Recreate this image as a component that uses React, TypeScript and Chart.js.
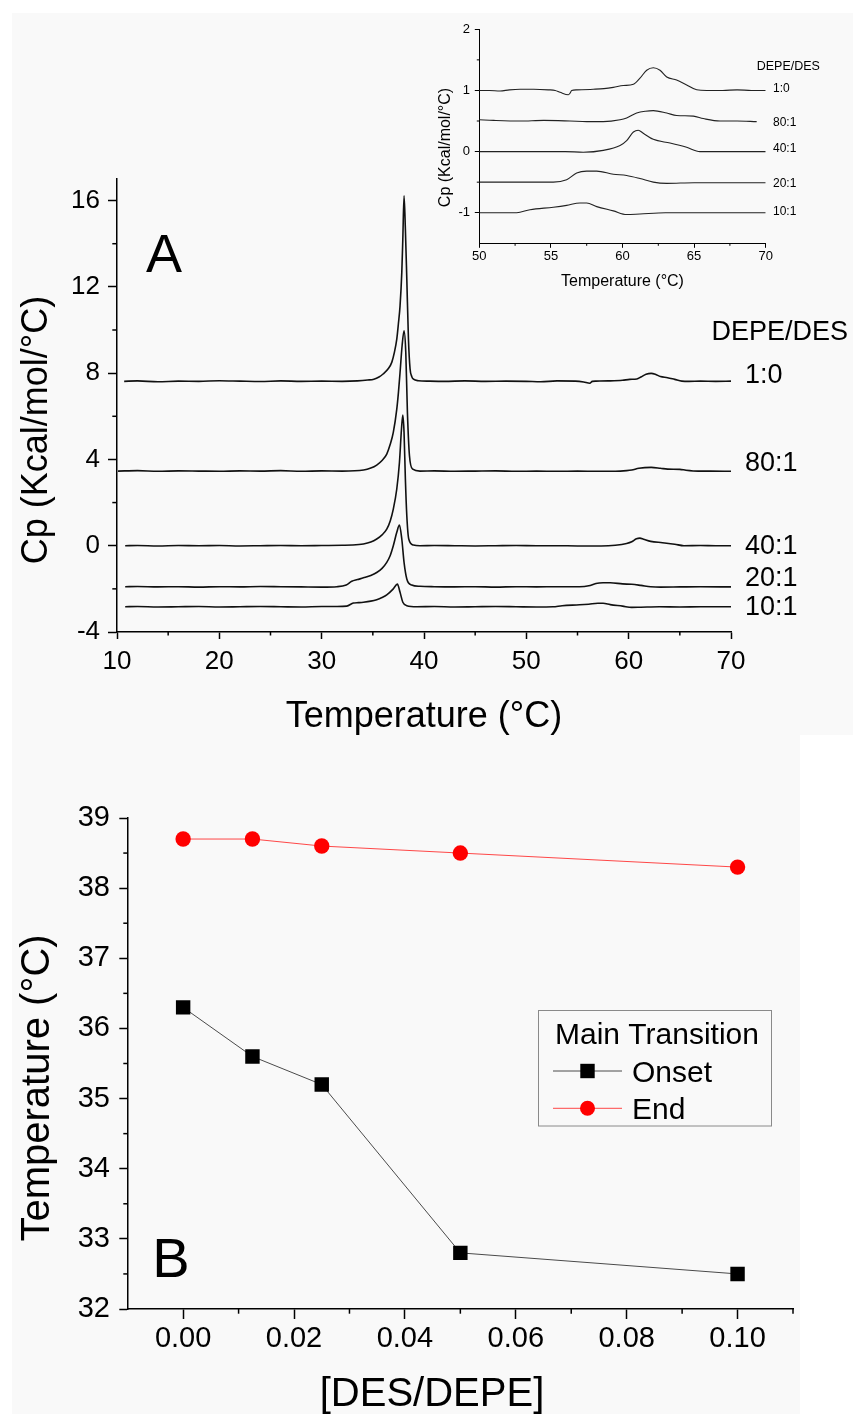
import { useEffect, useRef } from 'react';
import { Chart, registerables } from 'chart.js';

Chart.register(...registerables);

const FONT = '"Liberation Sans", Arial, Helvetica, sans-serif';

type Pt = [number, number];

// ---------- Panel A : main DSC traces (Temperature °C, Cp) ----------
const traceNames = ['1:0', '80:1', '40:1', '20:1', '10:1'];

const main_1_0: Pt[] = [
  [10.7, 7.62], [12, 7.64], [14, 7.6], [16, 7.63], [18, 7.62], [20, 7.65], [22, 7.63], [24, 7.61], [26, 7.64], [28, 7.62],
  [30, 7.63], [32, 7.62], [33.5, 7.64], [34.5, 7.68], [35.1, 7.72], [35.6, 7.82], [36.0, 7.96], [36.5, 8.2], [36.85, 8.5],
  [37.1, 8.95], [37.34, 9.58], [37.5, 10.3], [37.66, 11.12], [37.83, 12.67], [37.93, 14.21], [38.05, 16.22], [38.18, 14.68],
  [38.32, 12.36], [38.48, 9.58], [38.64, 8.19], [38.8, 7.85], [38.97, 7.72], [39.46, 7.65], [40.5, 7.63], [42, 7.62],
  [44, 7.64], [46, 7.62], [48, 7.63], [50, 7.62], [51.4, 7.6], [53, 7.64], [54.8, 7.63], [55.6, 7.59], [56.2, 7.53],
  [56.45, 7.62], [56.8, 7.63], [58, 7.64], [59.4, 7.67], [60.1, 7.71], [60.8, 7.73], [61.2, 7.82], [61.7, 7.95],
  [62.2, 7.99], [62.6, 7.95], [63.1, 7.84], [63.8, 7.79], [64.5, 7.71], [65.2, 7.63], [65.9, 7.62], [67, 7.63],
  [68.5, 7.62], [70, 7.63],
];

const main_80_1: Pt[] = [
  [10.1, 3.46], [12, 3.48], [14, 3.45], [16, 3.47], [18, 3.46], [20, 3.45], [22, 3.47], [24, 3.46], [26, 3.48], [28, 3.45],
  [30, 3.47], [32, 3.46], [34.1, 3.51], [34.8, 3.6], [35.38, 3.74], [35.9, 3.95], [36.36, 4.25], [36.7, 4.7], [37.0, 5.25],
  [37.34, 6.33], [37.5, 7.1], [37.66, 8.03], [37.86, 9.27], [38.05, 9.96], [38.22, 8.96], [38.38, 6.18], [38.58, 4.17],
  [38.9, 3.55], [39.6, 3.46], [41, 3.47], [43, 3.45], [45, 3.46], [47, 3.47], [49, 3.45], [51, 3.46], [53, 3.45],
  [55, 3.46], [57, 3.45], [58.7, 3.45], [59.8, 3.48], [60.3, 3.51], [61, 3.59], [62.2, 3.63], [63.1, 3.59], [63.8, 3.55],
  [65, 3.54], [65.6, 3.5], [66.8, 3.46], [68, 3.46], [70, 3.45],
];

const main_40_1: Pt[] = [
  [10.8, 0], [12, 0.01], [14, -0.01], [16, 0.01], [18, 0], [20, 0.01], [22, -0.01], [24, 0], [26, 0.01], [28, 0],
  [30, 0.01], [32, 0.02], [33, 0.03], [34.08, 0.08], [34.8, 0.17], [35.38, 0.31], [35.9, 0.5], [36.36, 0.77], [36.7, 1.15],
  [37.0, 1.7], [37.34, 2.63], [37.6, 3.86], [37.8, 5.41], [37.93, 6.06], [38.05, 5.25], [38.18, 3.09], [38.32, 1.39],
  [38.51, 0.31], [38.97, 0.03], [39.6, 0], [41, 0.01], [43, 0], [45, -0.01], [47, 0], [49, 0.01], [51, 0], [53, 0],
  [55, -0.01], [57.3, -0.01], [58.7, 0.02], [59.8, 0.1], [60.3, 0.18], [60.76, 0.32], [61.1, 0.35], [61.45, 0.3],
  [62.15, 0.2], [63.3, 0.14], [64.5, 0.07], [65.4, 0.0], [67, 0.01], [68.5, 0], [70, 0],
];

const main_20_1: Pt[] = [
  [10.8, -1.9], [12, -1.89], [14, -1.91], [16, -1.9], [18, -1.92], [20, -1.9], [22, -1.91], [24, -1.89], [26, -1.9],
  [28, -1.91], [30, -1.92], [31.5, -1.9], [32.4, -1.82], [32.94, -1.65], [33.5, -1.57], [34.08, -1.49], [34.8, -1.38],
  [35.38, -1.24], [35.9, -1.05], [36.36, -0.77], [36.7, -0.45], [37.0, 0.0], [37.34, 0.62], [37.6, 0.96], [37.83, 0.31],
  [38.05, -0.77], [38.32, -1.54], [38.8, -1.82], [39.6, -1.88], [41, -1.9], [43, -1.91], [45, -1.9], [47, -1.92],
  [49, -1.9], [51, -1.91], [53, -1.9], [55.2, -1.9], [56.1, -1.86], [56.8, -1.75], [57.5, -1.72], [58.2, -1.72],
  [59.4, -1.77], [60.3, -1.79], [61.2, -1.84], [62.15, -1.9], [63.1, -1.92], [65, -1.91], [67, -1.9], [70, -1.91],
];

const main_10_1: Pt[] = [
  [10.8, -2.83], [12, -2.82], [14, -2.84], [16, -2.83], [18, -2.82], [20, -2.84], [22, -2.83], [24, -2.82], [26, -2.83],
  [28, -2.84], [30, -2.82], [31.5, -2.82], [32.45, -2.8], [33.1, -2.66], [33.6, -2.64], [34.08, -2.62], [34.8, -2.57],
  [35.38, -2.5], [35.9, -2.4], [36.36, -2.28], [37.0, -2.0], [37.4, -1.78], [37.66, -2.16], [37.93, -2.62], [38.32, -2.78],
  [39.3, -2.83], [41, -2.82], [43, -2.84], [45, -2.83], [47, -2.82], [49, -2.83], [51, -2.84], [52.6, -2.83],
  [53.5, -2.78], [55.2, -2.74], [56.1, -2.71], [57.0, -2.67], [57.5, -2.67], [58.2, -2.73], [59.4, -2.8], [60.3, -2.86],
  [61.2, -2.85], [63, -2.83], [65, -2.84], [67, -2.83], [70, -2.83],
];

const mainXTicks = [10, 20, 30, 40, 50, 60, 70];
const mainXMinor = [15, 25, 35, 45, 55, 65];
const mainYTicks = [-4, 0, 4, 8, 12, 16];
const mainYMinor = [-2, 2, 6, 10, 14];

// ---------- Panel A inset : 50–70 °C ----------
const inset_1_0: Pt[] = [
  [50, 1.0], [50.7, 1.0], [51.45, 0.99], [52.1, 1.01], [52.85, 1.02], [53.8, 1.02], [54.82, 1.01], [55.3, 1.0],
  [55.64, 0.97], [56.22, 0.93], [56.35, 0.96], [56.45, 1.0], [56.8, 1.01], [57.96, 1.02], [58.7, 1.03], [59.36, 1.05],
  [60.06, 1.08], [60.76, 1.1], [61.22, 1.2], [61.69, 1.33], [62.15, 1.37], [62.62, 1.33], [63.09, 1.22], [63.78, 1.17],
  [64.48, 1.09], [65.18, 1.01], [65.88, 1.0], [67, 1.0], [68, 1.01], [69, 1.0], [70, 1.0],
];
const inset_80_1: Pt[] = [
  [50, 0.52], [51, 0.51], [52.85, 0.5], [54.5, 0.51], [56.33, 0.5], [57.5, 0.49], [58.66, 0.49], [59.83, 0.52],
  [60.29, 0.55], [60.99, 0.63], [61.6, 0.66], [62.15, 0.67], [63.09, 0.63], [63.78, 0.59], [64.95, 0.58], [65.64, 0.54],
  [66.81, 0.5], [68, 0.5], [69.37, 0.49],
];
const inset_40_1: Pt[] = [
  [50, 0], [52, 0], [54, 0.0], [56, 0], [57.26, -0.01], [58.66, 0.02], [59.83, 0.1], [60.29, 0.18], [60.76, 0.32],
  [61.1, 0.35], [61.45, 0.3], [62.15, 0.2], [63.32, 0.14], [64.48, 0.07], [65.41, 0.0], [67, 0], [68.5, 0], [70, 0],
];
const inset_20_1: Pt[] = [
  [50, -0.5], [52, -0.5], [54, -0.5], [55.17, -0.5], [56.1, -0.46], [56.8, -0.35], [57.5, -0.32], [58.2, -0.32],
  [59.36, -0.37], [60.29, -0.39], [61.22, -0.44], [62.15, -0.5], [63.09, -0.52], [65, -0.51], [67, -0.51], [70, -0.51],
];
const inset_10_1: Pt[] = [
  [50, -1.0], [51.5, -1.0], [52.61, -1.0], [53.54, -0.95], [55.17, -0.91], [56.1, -0.88], [57.03, -0.84], [57.5, -0.84],
  [58.2, -0.9], [59.36, -0.97], [60.29, -1.03], [61.22, -1.02], [63, -1.0], [65, -1.0], [67, -1.0], [70, -1.0],
];

const insetXTicks = [50, 55, 60, 65, 70];
const insetXMinor = [52.5, 57.5, 62.5, 67.5];
const insetYTicks = [-1, 0, 1, 2];
const insetYMinor = [-0.5, 0.5, 1.5];

// ---------- Panel B : transition temperatures ----------
const ratioDES = [0, 0.0125, 0.025, 0.05, 0.1];
const onsetT = [36.3, 35.6, 35.2, 32.8, 32.5];
const endT = [38.7, 38.7, 38.6, 38.5, 38.3];
const bXTicks = [0, 0.02, 0.04, 0.06, 0.08, 0.1];
const bXMinor = [0.01, 0.03, 0.05, 0.07, 0.09, 0.11];
const bYTicks = [32, 33, 34, 35, 36, 37, 38, 39];
const bYMinor = [32.5, 33.5, 34.5, 35.5, 36.5, 37.5, 38.5];

// ---------- plugins (factories) ----------
type TextItem = { text: string; x: number; y: number; size: number; align?: CanvasTextAlign; rot?: number; color?: string };

function textPlugin(items: TextItem[]) {
  return {
    id: 'freeText',
    afterDraw(chart: any) {
      const ctx = chart.ctx as CanvasRenderingContext2D;
      items.forEach((it) => {
        ctx.save();
        ctx.font = `${it.size}px ${FONT}`;
        ctx.fillStyle = it.color || '#000';
        ctx.textAlign = it.align || 'center';
        ctx.textBaseline = 'alphabetic';
        ctx.translate(it.x, it.y);
        if (it.rot) ctx.rotate(it.rot);
        ctx.fillText(it.text, 0, 0);
        ctx.restore();
      });
    },
  };
}

function minorTicksPlugin(xVals: number[], yVals: number[], xLen: number, yLen: number, width: number) {
  return {
    id: 'minorTicks',
    afterDraw(chart: any) {
      const ctx = chart.ctx as CanvasRenderingContext2D;
      const { chartArea, scales } = chart;
      ctx.save();
      ctx.strokeStyle = '#000';
      ctx.lineWidth = width;
      xVals.forEach((v) => {
        const p = scales.x.getPixelForValue(v);
        ctx.beginPath();
        ctx.moveTo(p, chartArea.bottom);
        ctx.lineTo(p, chartArea.bottom + xLen);
        ctx.stroke();
      });
      yVals.forEach((v) => {
        const p = scales.y.getPixelForValue(v);
        ctx.beginPath();
        ctx.moveTo(chartArea.left, p);
        ctx.lineTo(chartArea.left - yLen, p);
        ctx.stroke();
      });
      ctx.restore();
    },
  };
}

function seriesLabelPlugin(names: string[], headerText: string, x: number, headerX: number, headerY: number,
  size: number, headerSize: number, dy: number[]) {
  return {
    id: 'seriesLabels',
    afterDraw(chart: any) {
      const ctx = chart.ctx as CanvasRenderingContext2D;
      ctx.save();
      ctx.fillStyle = '#000';
      ctx.textAlign = 'left';
      ctx.textBaseline = 'alphabetic';
      ctx.font = `${headerSize}px ${FONT}`;
      ctx.fillText(headerText, headerX, headerY);
      ctx.font = `${size}px ${FONT}`;
      chart.data.datasets.forEach((ds: any, i: number) => {
        const last = ds.data[ds.data.length - 1];
        const py = chart.scales.y.getPixelForValue(last.y);
        ctx.fillText(names[i], x, py + dy[i] + size * 0.358);
      });
      ctx.restore();
    },
  };
}

function legendPlugin() {
  return {
    id: 'boxLegend',
    afterDraw(chart: any) {
      const ctx = chart.ctx as CanvasRenderingContext2D;
      const bx = 538.5, by = 250.5, bw = 233, bh = 115.5;
      ctx.save();
      ctx.strokeStyle = '#8a8a8a';
      ctx.lineWidth = 1;
      ctx.strokeRect(bx, by, bw, bh);
      ctx.fillStyle = '#000';
      ctx.textAlign = 'left';
      ctx.textBaseline = 'alphabetic';
      ctx.font = `30px ${FONT}`;
      ctx.fillText('Main Transition', 555, 283.5);
      const rows = [
        { label: chart.data.datasets[0].label, y: 311, ds: chart.data.datasets[0], rect: true },
        { label: chart.data.datasets[1].label, y: 348.3, ds: chart.data.datasets[1], rect: false },
      ];
      rows.forEach((r) => {
        ctx.strokeStyle = r.ds.borderColor;
        ctx.lineWidth = 1;
        ctx.beginPath();
        ctx.moveTo(553, r.y);
        ctx.lineTo(622, r.y);
        ctx.stroke();
        ctx.fillStyle = r.ds.pointBackgroundColor;
        if (r.rect) {
          ctx.fillRect(587.5 - 7.2, r.y - 7.2, 14.4, 14.4);
        } else {
          ctx.beginPath();
          ctx.arc(587.5, r.y, 7.5, 0, Math.PI * 2);
          ctx.fill();
        }
        ctx.fillStyle = '#000';
        ctx.font = `30px ${FONT}`;
        ctx.fillText(r.label, 632, r.y + 10.7);
      });
      ctx.restore();
    },
  };
}

function axisCommon(tickLen: number, lineW: number, size: number, pad: number) {
  return {
    type: 'linear' as const,
    grid: { display: true, drawOnChartArea: false, drawTicks: true, tickLength: tickLen, tickWidth: lineW, tickColor: '#000' },
    border: { display: true, color: '#000', width: lineW },
    ticks: { font: { family: FONT, size }, color: '#000', padding: pad, maxRotation: 0, autoSkip: false },
  };
}

export default function App() {
  const refA = useRef<HTMLCanvasElement>(null);
  const refI = useRef<HTMLCanvasElement>(null);
  const refB = useRef<HTMLCanvasElement>(null);

  useEffect(() => {
    const charts: Chart[] = [];
    const toXY = (arr: Pt[]) => arr.map(([x, y]) => ({ x, y }));

    // ---- main A ----
    const mainTraces = [main_1_0, main_80_1, main_40_1, main_20_1, main_10_1];
    const ax = axisCommon(7, 1.5, 26, 7.4);
    const ay = axisCommon(9, 1.5, 26, 8);
    charts.push(new Chart(refA.current!, {
      type: 'line',
      data: {
        datasets: mainTraces.map((tr, i) => ({
          label: traceNames[i], data: toXY(tr), borderColor: '#111', borderWidth: 1.6,
          pointRadius: 0, cubicInterpolationMode: 'monotone', fill: false,
        })),
      },
      options: {
        animation: false, responsive: false, devicePixelRatio: 1, events: [],
        layout: { padding: { top: 179, right: 122, left: 0, bottom: 0 } },
        plugins: { legend: { display: false }, tooltip: { enabled: false } },
        scales: {
          x: { ...ax, min: 10, max: 70,
            afterBuildTicks: (s: any) => { s.ticks = mainXTicks.map((v) => ({ value: v })); },
            afterFit: (s: any) => { s.height = 128; } },
          y: { ...ay, min: -4, max: 17,
            afterBuildTicks: (s: any) => { s.ticks = mainYTicks.map((v) => ({ value: v })); },
            afterFit: (s: any) => { s.width = 117; } },
        },
      } as any,
      plugins: [
        minorTicksPlugin(mainXMinor, mainYMinor, 3.5, 4.7, 1.5),
        seriesLabelPlugin(traceNames, 'DEPE/DES', 745, 711.5, 339.5, 27, 27, [-8, -9.5, -1.5, -10.6, -1]),
        textPlugin([
          { text: 'A', x: 164, y: 271.5, size: 54 },
          { text: 'Cp (Kcal/mol/°C)', x: 46.5, y: 430, size: 36, rot: -Math.PI / 2 },
          { text: 'Temperature (°C)', x: 424, y: 726.5, size: 36 },
        ]),
      ],
    }));

    // ---- inset ----
    const insetTraces = [inset_1_0, inset_80_1, inset_40_1, inset_20_1, inset_10_1];
    const ix = axisCommon(4.5, 1, 13, 0.4);
    const iy = axisCommon(4.5, 1, 13, 4.8);
    charts.push(new Chart(refI.current!, {
      type: 'line',
      data: {
        datasets: insetTraces.map((tr, i) => ({
          label: traceNames[i], data: toXY(tr), borderColor: '#222', borderWidth: 1.1,
          pointRadius: 0, cubicInterpolationMode: 'monotone', fill: false,
        })),
      },
      options: {
        animation: false, responsive: false, devicePixelRatio: 1, events: [],
        layout: { padding: { top: 29.3, right: 87.3, left: 0, bottom: 0 } },
        plugins: { legend: { display: false }, tooltip: { enabled: false } },
        scales: {
          x: { ...ix, min: 50, max: 70,
            afterBuildTicks: (s: any) => { s.ticks = insetXTicks.map((v) => ({ value: v })); },
            afterFit: (s: any) => { s.height = 56.7; } },
          y: { ...iy, min: -1.5, max: 2,
            afterBuildTicks: (s: any) => { s.ticks = insetYTicks.map((v) => ({ value: v })); },
            afterFit: (s: any) => { s.width = 79.3; } },
        },
      } as any,
      plugins: [
        minorTicksPlugin(insetXMinor, insetYMinor, 2.5, 2.5, 1),
        seriesLabelPlugin(traceNames, 'DEPE/DES', 373, 356.7, 70.2, 12, 12.5, [-2.7, -0.3, -4.3, 0.2, -2.3]),
        textPlugin([
          { text: 'Cp (Kcal/mol/°C)', x: 49.8, y: 147.5, size: 16, rot: -Math.PI / 2 },
          { text: 'Temperature (°C)', x: 222.5, y: 285.5, size: 16 },
        ]),
      ],
    }));

    // ---- panel B ----
    const bx = axisCommon(10, 1.5, 29, 2.9);
    const by = axisCommon(8.4, 1.5, 29, 9.3);
    charts.push(new Chart(refB.current!, {
      type: 'line',
      data: {
        datasets: [
          {
            label: 'Onset', data: ratioDES.map((x, i) => ({ x, y: onsetT[i] })), borderColor: '#4a4a4a', borderWidth: 1,
            pointStyle: 'rect', pointRadius: 10.2, pointBackgroundColor: '#000', pointBorderColor: '#000', pointBorderWidth: 0,
            tension: 0, fill: false,
          },
          {
            label: 'End', data: ratioDES.map((x, i) => ({ x, y: endT[i] })), borderColor: 'rgba(255,40,40,0.85)', borderWidth: 1,
            pointStyle: 'circle', pointRadius: 7.7, pointBackgroundColor: '#ff0000', pointBorderColor: '#ff0000', pointBorderWidth: 0,
            tension: 0, fill: false,
          },
        ],
      },
      options: {
        animation: false, responsive: false, devicePixelRatio: 1, events: [],
        layout: { padding: { top: 58, right: 60, left: 0, bottom: 0 } },
        plugins: { legend: { display: false }, tooltip: { enabled: false } },
        scales: {
          x: { ...bx, min: -0.01, max: 0.11,
            ticks: { ...bx.ticks, callback: (v: any) => Number(v).toFixed(2) },
            afterBuildTicks: (s: any) => { s.ticks = bXTicks.map((v) => ({ value: v })); },
            afterFit: (s: any) => { s.height = 105; } },
          y: { ...by, min: 32, max: 39,
            afterBuildTicks: (s: any) => { s.ticks = bYTicks.map((v) => ({ value: v })); },
            afterFit: (s: any) => { s.width = 127.7; } },
        },
      } as any,
      plugins: [
        minorTicksPlugin(bXMinor, bYMinor, 4.7, 4.4, 1.5),
        legendPlugin(),
        textPlugin([
          { text: 'B', x: 171, y: 517, size: 56 },
          { text: 'Temperature (°C)', x: 49, y: 328, size: 40, rot: -Math.PI / 2 },
          { text: '[DES/DEPE]', x: 432, y: 646, size: 40 },
        ]),
      ],
    }));

    return () => charts.forEach((c) => c.destroy());
  }, []);

  return (
    <div style={{ position: 'absolute', left: 0, top: 0, width: 853, height: 1414, background: '#fff', overflow: 'hidden' }}>
      <div style={{ position: 'absolute', left: 12, top: 13, width: 841, height: 722, background: '#f9f9f9' }} />
      <div style={{ position: 'absolute', left: 12, top: 735, width: 788, height: 679, background: '#f9f9f9' }} />
      <canvas ref={refA} width={853} height={760} style={{ position: 'absolute', left: 0, top: 0 }} />
      <canvas ref={refI} width={453} height={300} style={{ position: 'absolute', left: 400, top: 0 }} />
      <canvas ref={refB} width={853} height={654} style={{ position: 'absolute', left: 0, top: 760 }} />
    </div>
  );
}
